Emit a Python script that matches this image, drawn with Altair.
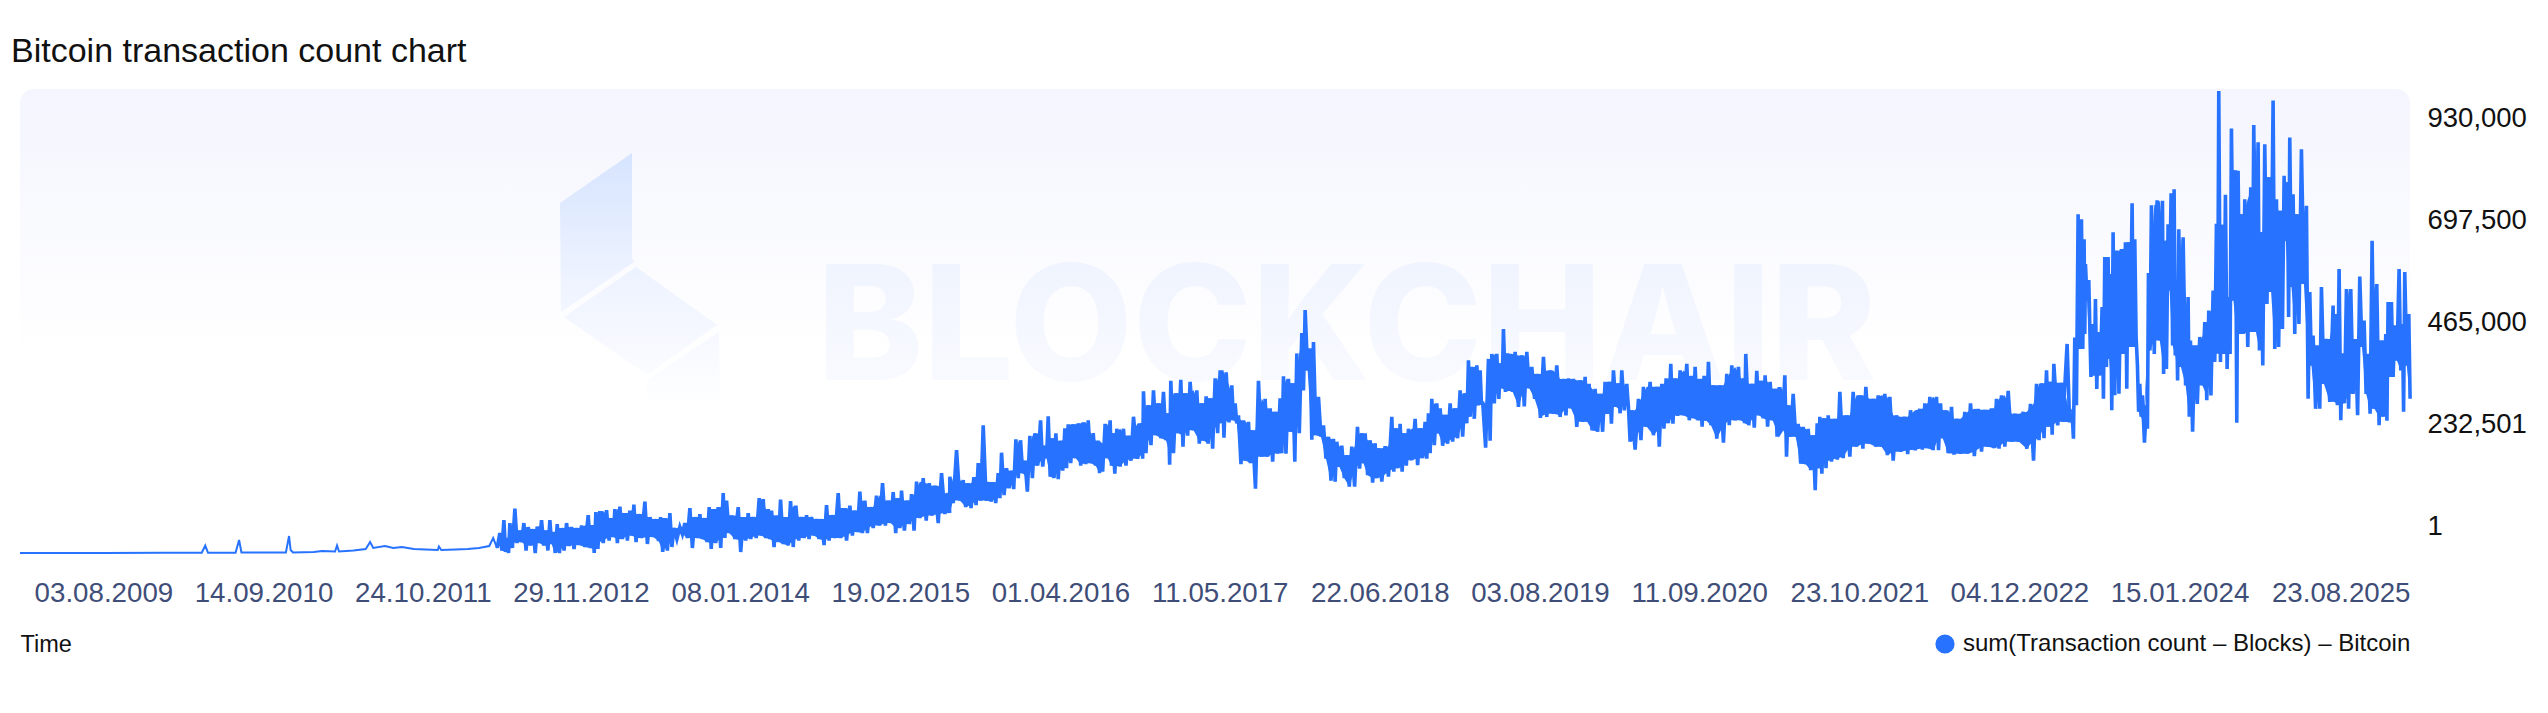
import altair as alt
import pandas as pd

TITLE = "Bitcoin transaction count chart"
SERIES = "sum(Transaction count – Blocks) – Bitcoin"
BLUE = "#2773ff"
FONT = "Liberation Sans"

x_tick_dates = [(2009,8,3),(2010,9,14),(2011,10,24),(2012,11,29),(2014,1,8),(2015,2,19),(2016,4,1),
                (2017,5,11),(2018,6,22),(2019,8,3),(2020,9,11),(2021,10,23),(2022,12,4),(2024,1,15),(2025,8,23)]
y_tick_values = [1, 232501, 465000, 697500, 930000]

# early years: date, thousands of transactions per day
early_dates = ["2009-01-03","2009-08-03","2010-01-01","2010-04-10","2010-04-19","2010-04-26","2010-07-05","2010-07-14",
               "2010-07-20","2010-11-10","2010-11-18","2010-11-22","2010-11-28","2011-01-20","2011-02-10","2011-03-15",
               "2011-03-20","2011-03-25","2011-05-01","2011-06-01","2011-06-12","2011-06-20","2011-07-20","2011-08-10",
               "2011-09-01","2011-10-01","2011-11-01","2011-12-01","2011-12-04","2011-12-10","2012-01-15","2012-02-15",
               "2012-03-15","2012-04-10","2012-04-20","2012-04-30"]
early_k = [0,0.1,0.3,0.4,15,0.4,0.5,26,1,1,34,6,1,2,4,3,15,3,5,8,22,10,14,10,12,8,7,6,13,6,7,8,10,14,30,10]

# Later years: each stretch has a start date, reading places (in steps of DAY_STEP days), daily highs and lows (thousands)
DAY_STEP = 0.8474
s1_start = "2012-05-07"
s1_at = [0,12,22,30,45,58,72,85,100,112,125,138,150,160,172,185,200,215,230,245,265,278,288,300,320,335,345,360,375,390,402,415,435,450,470,482,495,510,522,540,555,570,585,600,615,628,640,655,670,680,695,715,730,745,760,778,790,805,815,830,842,858,872,888,905,920,935,950,965,980,995,1015,1030,1050,1065,1080,1095,1110,1130,1148,1165,1180,1195,1205,1222,1235,1250,1270,1288,1305,1325,1345]
s1_hi = [40,66,30,60,89,45,60,52,48,53,66,45,66,42,58,50,60,52,50,55,76,56,82,84,86,70,88,93,80,85,97,78,103,72,68,72,70,80,50,52,60,90,72,78,70,92,88,92,120,105,75,92,72,80,72,110,108,88,85,75,107,72,104,95,72,76,72,68,68,96,76,120,90,95,85,123,105,92,115,140,105,122,110,125,105,118,143,150,140,135,160,120]
s1_lo = [5,2,0,10,20,22,5,15,0,20,15,5,18,0,0,5,14,8,16,12,10,0,8,20,25,32,20,28,25,35,22,30,18,32,24,2,5,12,28,38,30,10,30,28,22,8,20,10,30,40,28,2,25,28,30,35,30,28,12,22,18,15,12,25,30,28,35,28,16,25,30,30,25,35,42,40,40,50,55,55,60,40,50,45,58,45,70,65,75,60,78,80]

s2_start = "2015-06-25"
s2_at = [0,20,40,55,72,85,100,118,130,145,155,170,185,198,212,225,240,255,272,285,295,307,318,332,345,355,370,385,400,415,430,445]
s2_hi = [153,206,146,140,152,180,256,142,142,160,201,170,165,228,226,185,235,240,266,215,274,230,240,225,250,258,258,260,262,266,240,225]
s2_lo = [100,105,92,90,96,105,105,103,100,110,116,130,128,150,160,123,150,175,173,190,153,150,148,165,170,180,190,175,178,180,175,160]

s3_start = "2016-07-11"
s3_at = [0,15,30,38,50,70,85,100,125,130,145,160,175,190,205,212,228,242,255,270,290,305,318,330,345,360,365,378,395,405,415,430,445,457,475,495,510,525,540,550,565,578,590,605,615,630,640,655,670,685,700,710,725,740,755,772,785,795,810,825,835,855,875,887,900,912,925,945,960,975,985,995,1010,1020,1035,1050,1065,1080,1095,1105,1115,1130]
s3_hi = [219,259,266,240,249,249,235,273,260,324,296,326,300,323,280,345,320,347,320,343,326,300,314,310,350,366,366,362,336,300,276,266,263,246,345,309,290,283,310,354,349,340,400,441,487,410,423,313,256,233,229,223,215,196,213,253,240,240,226,220,210,214,273,250,259,240,249,269,250,263,280,309,300,290,277,300,290,326,320,386,373,376]
s3_lo = [163,190,175,159,173,175,185,189,189,200,216,236,230,226,177,200,240,213,235,246,219,225,219,209,240,260,231,262,266,260,178,185,180,129,193,193,183,199,200,199,243,183,240,326,366,227,236,233,189,145,143,173,150,133,133,169,180,156,141,150,143,153,163,170,163,175,186,176,190,189,200,216,240,215,219,223,230,233,260,273,269,296]

s4_start = "2019-03-04"
s4_at = [0,8,25,35,50,62,70,82,90,105,125,140,155,172,190,210,230,250,265,280,300,315,327,345,360,375,388,400,415,425,440,445,455,475,490,510,530,545,558,572,585,600,620,635,645,660,672,685,700,720,740,755,775,790,797,815,830,843,855,870,885,897]
s4_hi = [366,300,389,399,399,380,449,400,399,403,396,403,373,359,393,366,376,349,350,349,346,353,339,329,319,343,343,366,340,366,339,293,286,309,333,343,333,339,350,379,350,366,379,355,373,349,355,383,336,336,359,376,373,350,399,339,365,345,356,343,329,329]
s4_lo = [300,211,225,300,309,330,323,325,323,293,294,330,309,271,273,279,273,276,290,253,263,263,246,243,243,279,259,293,280,286,313,223,207,226,253,236,213,249,260,259,275,276,266,270,266,253,265,256,229,221,256,266,266,260,256,251,276,270,253,266,233,243]

s5_start = "2021-04-04"
s5_at = [0,15,25,40,55,70,85,100,112,120,132,145,165,180,200,220,240,258,280,295,315,330,350,375,392,420,435,450,470,482,495,515,530,555,572,595,615,635,650,665,685,705,730,752,770,785,800,812,822,845]
s5_hi = [329,356,296,319,259,253,249,236,260,273,270,276,269,323,276,323,316,333,309,316,319,313,276,273,286,289,300,313,313,300,286,293,269,283,300,289,287,290,309,316,325,279,283,299,339,340,366,343,379,341]
s5_lo = [249,193,233,233,179,178,166,126,170,159,170,183,187,190,193,213,209,219,213,213,196,185,203,198,206,207,210,206,206,230,200,197,199,199,194,203,213,210,209,213,223,223,209,185,226,230,253,237,256,263]

s6_start = "2022-06-10"
s6_at = [352,367,375,385,395,403,407,417,430,437,445,457,465,475,482,490,500,515,527,535,547,555,563,570,578,590,596,605,622,638,645,655,664,673,680,687,700,715,722,735,750,765,777,790,800,807,817,827,837,845,857,865,875,885,903,912,925,933,945,958,970,980,993,1003,1013,1020,1030,1040,1055,1070,1080,1090,1105,1115,1130,1150,1158,1168,1178,1190,1203,1217,1230,1243,1255,1267,1281,1295,1308,1315,1325,1335,1348,1358,1365,1377]
s6_hi = [419,280,432,679,669,629,579,547,459,509,443,493,593,593,559,643,606,609,623,623,701,629,376,339,316,296,561,697,707,706,626,659,721,729,499,649,633,513,426,416,433,463,486,526,660,926,658,718,513,851,767,766,679,709,733,858,823,643,819,753,907,709,686,756,743,833,719,679,809,696,523,436,416,533,429,496,479,569,400,529,529,429,554,466,399,626,539,426,439,503,503,456,569,459,563,479]
s6_lo = [262,229,296,409,409,439,506,353,356,329,356,309,373,389,286,316,319,399,329,413,413,433,283,273,221,249,406,399,426,359,369,526,416,396,346,373,336,273,243,299,336,306,316,383,400,383,399,369,399,506,261,439,439,413,443,443,406,376,499,523,409,413,449,626,473,533,439,459,539,309,376,289,289,339,303,303,296,266,300,289,319,276,413,319,279,289,256,273,265,353,353,386,366,283,376,309]

stretches = [(s1_start,s1_at,s1_hi,s1_lo),(s2_start,s2_at,s2_hi,s2_lo),(s3_start,s3_at,s3_hi,s3_lo),
             (s4_start,s4_at,s4_hi,s4_lo),(s5_start,s5_at,s5_hi,s5_lo),(s6_start,s6_at,s6_hi,s6_lo)]

early_rows = [(pd.Timestamp(d), k) for d, k in zip(early_dates, early_k)]
rows = [early_rows[-1]]
core_rows = []   # the solid core of the band: where neighbouring highs and lows overlap
for start, at, hi, lo in stretches:
    t0 = pd.Timestamp(start)
    for i, a in enumerate(at):
        nxt = at[i + 1] if i + 1 < len(at) else a + 8
        rows.append((t0 + pd.Timedelta(days=a * DAY_STEP), hi[i]))
        rows.append((t0 + pd.Timedelta(days=(a + nxt) / 2 * DAY_STEP), lo[i]))
        j = min(i + 1, len(at) - 1)
        top, bot = min(hi[i], hi[j]), max(lo[i], lo[j])
        core_rows.append((t0 + pd.Timedelta(days=(a + nxt) / 2 * DAY_STEP), max(top, bot) * 1000, bot * 1000))

def frame(r):
    d = pd.DataFrame(r, columns=["date", "k"])
    d["date"] = d["date"].dt.strftime("%Y-%m-%dT%H:%M:%SZ")
    d["count"] = d["k"] * 1000
    d["series"] = SERIES
    return d
df_early, df_late = frame(early_rows), frame(rows)
df_core = pd.DataFrame(core_rows, columns=["date", "top", "bot"])
df_core["date"] = df_core["date"].dt.strftime("%Y-%m-%dT%H:%M:%SZ")

MONTHS = ["January","February","March","April","May","June","July","August","September","October","November","December"]
def dt(y, m, d):
    return alt.DateTime(year=y, month=MONTHS[m - 1], date=d, utc=True)

W, H = 2390, 464

panel_fill = alt.LinearGradient(gradient="linear", x1=0, y1=0, x2=0, y2=1, stops=[
    alt.GradientStop(color="#f4f5fe", offset=0), alt.GradientStop(color="#ffffff", offset=0.58), alt.GradientStop(color="#ffffff", offset=1)])
word_fill = alt.LinearGradient(gradient="linear", x1=0, y1=0, x2=0, y2=1, stops=[
    alt.GradientStop(color="#edf2fe", offset=0), alt.GradientStop(color="#fbfcff", offset=1)])
logo_fill = alt.LinearGradient(gradient="linear", x1=0, y1=0, x2=0, y2=1, stops=[
    alt.GradientStop(color="#d6e4fe", offset=0), alt.GradientStop(color="#eef3ff", offset=0.5), alt.GradientStop(color="#ffffff", offset=1)])

base = alt.Chart(pd.DataFrame({"a": [0]}))
panel = base.mark_rect(fill=panel_fill, cornerRadius=14).encode(
    x=alt.value(0), x2=alt.value(W), y=alt.value(0), y2=alt.value(H))

LOGO = ("M-0.08,-1.27 L-0.08,-0.22 L-0.06,-0.18 L-0.79,0.32 L-0.80,-0.77 Z "
        "M-0.04,-0.13 L0.77,0.45 L0.07,0.95 L-0.76,0.37 Z "
        "M0.79,0.52 L0.80,1.27 L0.07,1.27 L0.07,1.00 Z")
logo = base.mark_point(shape=LOGO, filled=True, fill=logo_fill, size=40000, opacity=1, strokeWidth=0).encode(
    x=alt.value(620), y=alt.value(191))
word = base.mark_text(text="BLOCKCHAIR", font="Inter", fontWeight=800, fontSize=160, fill=word_fill,
                      align="left", baseline="alphabetic").encode(x=alt.value(797), y=alt.value(291))

x_enc = alt.X("date:T", scale=alt.Scale(type="utc", domain=[dt(2009,1,3), dt(2025,8,23)]),
            axis=alt.Axis(values=[dt(*d) for d in x_tick_dates], format="%d.%m.%Y", grid=False, domain=False, ticks=False,
                          labelFont=FONT, labelFontSize=27.7, labelColor="#3f4e78", labelPadding=26, labelFlush=False,
                          labelOverlap=False,
                          labelAlign={"condition": {"test": "datum.label == '23.08.2025'", "value": "right"}, "value": "center"},
                          title="Time", titleFont=FONT, titleFontSize=23.5, titleFontWeight="normal", titleColor="#111111",
                          titleAnchor="start", titleAlign="left", titleBaseline="middle", titleX=0, titleY=91))
y_scale = alt.Scale(domain=[0, 930000], nice=False)
y_enc = alt.Y("count:Q", scale=y_scale, axis=None)
color_enc = alt.Color("series:N", scale=alt.Scale(range=[BLUE]),
                    legend=alt.Legend(orient="none", legendX=1913, legendY=543, title=None, symbolType="circle", symbolSize=314,
                                      symbolFillColor=BLUE, symbolStrokeColor=BLUE, labelFont=FONT, labelFontSize=24,
                                      labelColor="#111111", labelOffset=6, labelLimit=600))

core = alt.Chart(df_core).mark_area(color=BLUE).encode(
    x=x_enc, y=alt.Y("top:Q", scale=y_scale, axis=None), y2="bot:Q")
line_early = alt.Chart(df_early).mark_line(strokeWidth=2).encode(x=x_enc, y=y_enc, color=color_enc)
line_late = alt.Chart(df_late).mark_line(strokeWidth=3.6).encode(x=x_enc, y=y_enc, color=color_enc)

y_axis_layer = alt.Chart(pd.DataFrame({"v": y_tick_values})).mark_point(opacity=0).encode(
    y=alt.Y("v:Q", scale=alt.Scale(domain=[-59265, 998382], nice=False, zero=False),
            axis=alt.Axis(orient="right", values=y_tick_values, format=",.0f", grid=False, domain=False, ticks=False, title=None,
                          labelFont=FONT, labelFontSize=27.5, labelColor="#111111", labelPadding=17, labelAlign="left",
                          labelOverlap=False, labelBaseline="middle", labelFlush=False)))

chart = alt.layer(panel, logo, word, core, line_early, line_late, y_axis_layer).resolve_scale(y="independent").properties(
    width=W, height=H,
    autosize=alt.AutoSizeParams(type="none"),
    padding={"left": 12, "top": 81, "right": 125, "bottom": 140},
    title=alt.TitleParams(TITLE, anchor="start", frame="group", dx=-9, offset=15, font=FONT, fontSize=34,
                          fontWeight="normal", color="#111111"),
).configure_view(stroke=None)

chart.save("out.html", embed_options={"renderer": "svg", "actions": False})
